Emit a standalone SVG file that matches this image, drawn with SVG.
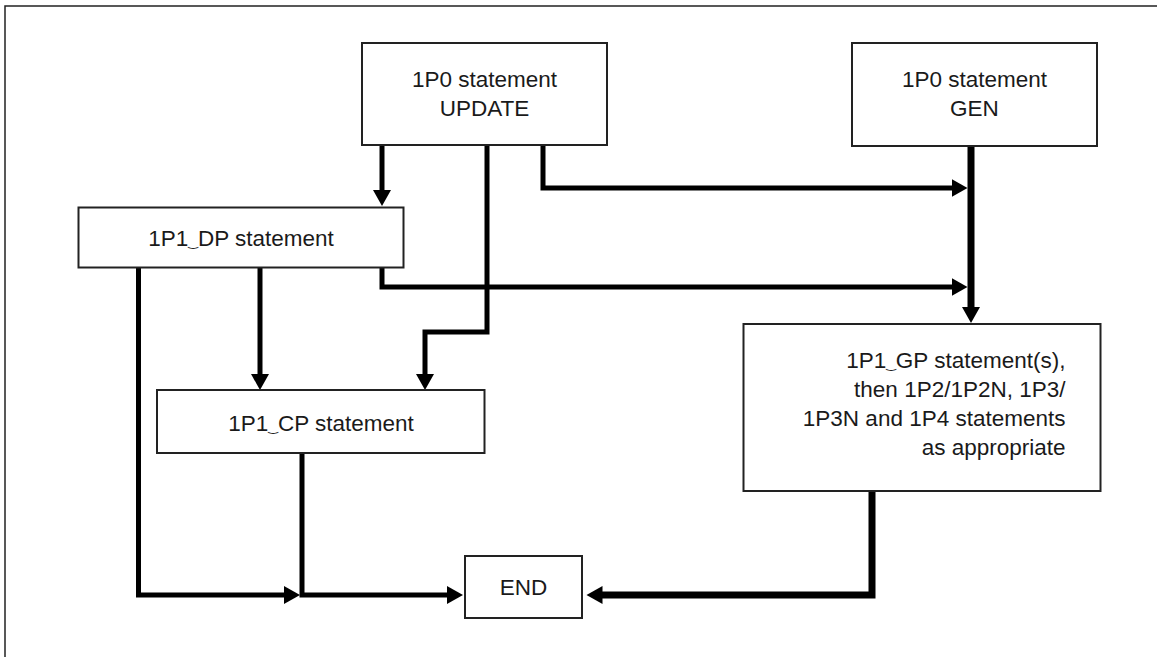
<svg xmlns="http://www.w3.org/2000/svg" width="1157" height="657" viewBox="0 0 1157 657">
<style>
.box{fill:#fff;stroke:#222;stroke-width:2}
.t{font-family:"Liberation Sans",Arial,sans-serif;font-size:22.5px;fill:#1a1a1a}
.u{font-family:"DejaVu Sans",sans-serif;font-size:12px}
.c{fill:none;stroke:#000;stroke-width:5;stroke-linejoin:miter;marker-end:url(#ah)}
.w{stroke-width:7}
</style>
<defs>
<marker id="ah" markerUnits="userSpaceOnUse" markerWidth="17" markerHeight="18" refX="6" refY="9" orient="auto" viewBox="0 0 17 18">
<path d="M0,0 L16,9 L0,18 z" fill="#000"/>
</marker>
</defs>
<rect x="5" y="6" width="1200" height="700" fill="#fff" stroke="#222" stroke-width="1.5"/>
<g id="connectors">
<path class="c" d="M382,145 V196"/>
<path class="c" d="M487,145 V332 H425 V380"/>
<path class="c" d="M543,145 V188 H957.5"/>
<path class="c" d="M382,268 V287 H957.5"/>
<path class="c w" d="M971,146 V313"/>
<path class="c" d="M260,268 V380"/>
<path class="c" d="M138.5,268 V595 H290"/>
<path class="c" d="M302,453 V595 H453"/>
<path class="c w" d="M872,491 V595 H596.5"/>
</g>
<g id="update">
<rect class="box" x="362" y="43" width="245" height="102"/>
<text class="t" x="484.5" y="87" text-anchor="middle">1P0 statement</text>
<text class="t" x="484.5" y="116" text-anchor="middle">UPDATE</text>
</g>
<g id="gen">
<rect class="box" x="852" y="43" width="245" height="103"/>
<text class="t" x="974.5" y="87" text-anchor="middle">1P0 statement</text>
<text class="t" x="974.5" y="116" text-anchor="middle">GEN</text>
</g>
<g id="dp">
<rect class="box" x="78.5" y="207.5" width="325" height="60"/>
<text class="t" x="241" y="246" text-anchor="middle">1P1<tspan class="u">‿</tspan>DP statement</text>
</g>
<g id="cp">
<rect class="box" x="157" y="390" width="327.5" height="63"/>
<text class="t" x="321" y="431" text-anchor="middle">1P1<tspan class="u">‿</tspan>CP statement</text>
</g>
<g id="gp">
<rect class="box" x="743.5" y="324" width="357" height="167"/>
<text class="t" x="1065.5" y="368" text-anchor="end">1P1<tspan class="u">‿</tspan>GP statement(s),</text>
<text class="t" x="1065.5" y="397" text-anchor="end">then 1P2/1P2N, 1P3/</text>
<text class="t" x="1065.5" y="426" text-anchor="end">1P3N and 1P4 statements</text>
<text class="t" x="1065.5" y="455" text-anchor="end">as appropriate</text>
</g>
<g id="end">
<rect class="box" x="465" y="556" width="117" height="62"/>
<text class="t" x="523.5" y="595" text-anchor="middle">END</text>
</g>
</svg>
